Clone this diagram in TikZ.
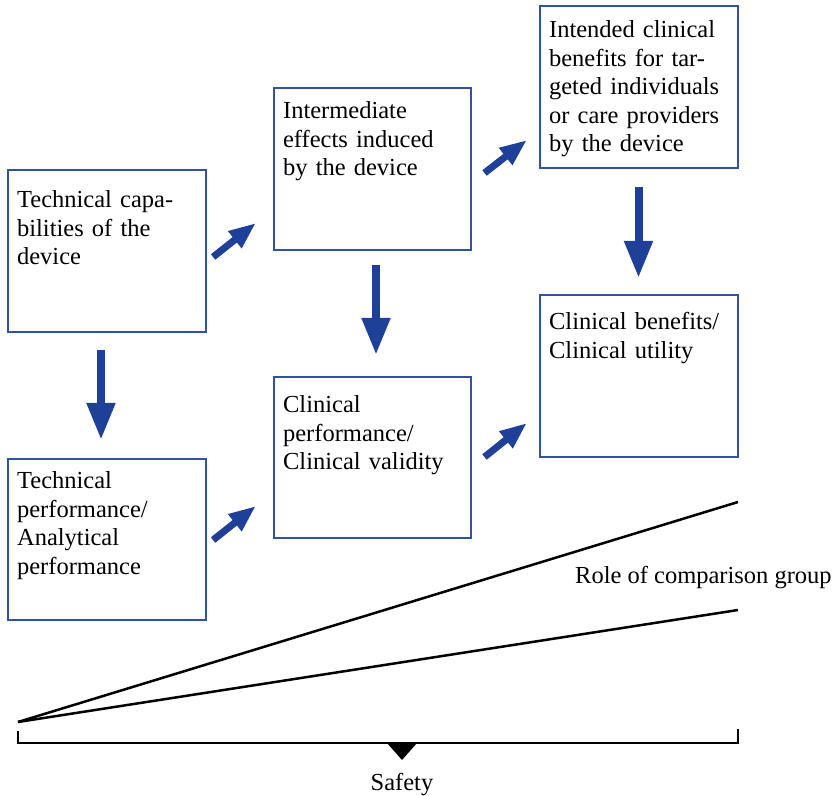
\documentclass[tikz,border=0pt]{standalone}
\usepackage{fontspec}
\setmainfont{Liberation Serif}
\usetikzlibrary{arrows.meta,calc}
\definecolor{boxblue}{RGB}{47,82,163}
\definecolor{arrowblue}{RGB}{31,64,153}
\begin{document}
\begin{tikzpicture}[x=1pt,y=-1pt,
  box/.style={draw=boxblue, line width=2.2pt, fill=white, rectangle, inner sep=0pt},
  txt/.style={anchor=base west, inner sep=0pt, text width=190pt, align=left,
    font=\fontsize{24.5}{28.4}\selectfont},
  lbl/.style={inner sep=0pt, font=\fontsize{24.5}{28.4}\selectfont},
  downarrow/.style={draw=arrowblue, line width=8pt,
    -{Triangle[length=37pt,width=27pt]}, arrowblue},
  diagarrow/.style={draw=arrowblue, line width=7pt,
    -{Triangle[length=27pt,width=20pt]}, arrowblue},
  blackline/.style={line width=2.5pt, black}]
\useasboundingbox (0,0) rectangle (839,796);

% boxes
\node[box, minimum width=198pt, minimum height=162pt] (A) at (107,251) {};
\node[box, minimum width=198pt, minimum height=161pt] (B) at (107,539.5) {};
\node[box, minimum width=197pt, minimum height=162pt] (C) at (372.5,169) {};
\node[box, minimum width=197pt, minimum height=161pt] (D) at (372.5,457.5) {};
\node[box, minimum width=198pt, minimum height=162pt] (E) at (639,87) {};
\node[box, minimum width=198pt, minimum height=162pt] (F) at (639,376) {};

% texts
\node[txt] (tA) at ($(A.north west)+(10,39)$) {Technical capa-\\bilities of the\\device};
\node[txt] (tB) at ($(B.north west)+(10,31)$) {Technical\\performance/\\Analytical\\performance};
\node[txt] (tC) at ($(C.north west)+(10,32)$) {Intermediate\\effects induced\\by the device};
\node[txt] (tD) at ($(D.north west)+(10,37)$) {Clinical\\performance/\\Clinical validity};
\node[txt] (tE) at ($(E.north west)+(10,33)$) {Intended clinical\\benefits for tar-\\geted individuals\\or care providers\\by the device};
\node[txt] (tF) at ($(F.north west)+(10,36)$) {Clinical benefits/\\Clinical utility};

% vertical arrows
\draw[downarrow, shorten <=17pt, shorten >=18pt] ([xshift=-6pt]A.south) -- ([xshift=-6pt]B.north);
\draw[downarrow, shorten <=14pt, shorten >=21pt] ([xshift=3.5pt]C.south) -- ([xshift=3.5pt]D.north);
\draw[downarrow, shorten <=18pt, shorten >=16pt] ([xshift=-0.5pt]E.south) -- ([xshift=-0.5pt]F.north);

% diagonal arrows
\draw[diagarrow] ($(A.east)+(6,6)$) -- ($(C.west)+(-17,54)$);
\draw[diagarrow] ($(B.east)+(6,0.5)$) -- ($(D.west)+(-17,48.5)$);
\draw[diagarrow] ($(C.east)+(12.4,4)$) -- ($(E.west)+(-12,53)$);
\draw[diagarrow] ($(D.east)+(12.4,-0.5)$) -- ($(F.west)+(-12,47)$);

% comparison wedge
\coordinate (apex) at (18,722);
\coordinate (up) at (738,502);
\coordinate (lo) at (738,610);
\draw[blackline] (apex) -- (up);
\draw[blackline] (apex) -- (lo);
\node[lbl, anchor=base west] (role) at (575,583) {Role of comparison group};

% safety bracket
\coordinate (bl) at (18,731);
\coordinate (br) at (738,729);
\draw[blackline] (bl) -- (18,743) -- (738,743) -- (br);
\draw[white, line width=1.2pt] (369,741.6) -- (440,741.6);
\fill[black] (387,743) -- (417,743) -- (402,760) -- cycle;
\node[lbl, anchor=base] (safety) at (402,790) {Safety};
\end{tikzpicture}
\end{document}
